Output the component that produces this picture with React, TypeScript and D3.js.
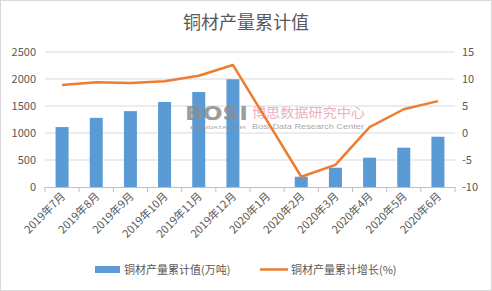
import React from "react";
import * as d3 from "d3";

const categories = ["2019年7月","2019年8月","2019年9月","2019年10月","2019年11月","2019年12月","2020年1月","2020年2月","2020年3月","2020年4月","2020年5月","2020年6月"];
const outputValues: (number | null)[] = [1110, 1280, 1405, 1575, 1760, 1995, null, 190, 357, 543, 728, 931];
const growthValues: (number | null)[] = [8.9, 9.4, 9.25, 9.6, 10.6, 12.6, null, -8.1, -5.9, 1.1, 4.4, 5.9];
const leftTicks = [0, 500, 1000, 1500, 2000, 2500];
const rightTicks = [-10, -5, 0, 5, 10, 15];
const title = "铜材产量累计值";
const barLabel = "铜材产量累计值(万吨)";
const lineLabel = "铜材产量累计增长(%)";

const W = 492, H = 291;
const M = { left: 45, right: 455, top: 52, bottom: 187 };
const FONT = "'Noto Sans CJK SC', 'Noto Sans', sans-serif";
const TXT = "#595959";

export default function App() {
  const step = (M.right - M.left) / categories.length;
  const yL = d3.scaleLinear().domain([0, 2500]).range([M.bottom, M.top]);
  const yR = d3.scaleLinear().domain([-10, 15]).range([M.bottom, M.top]);
  const center = (c: string) => M.left + categories.indexOf(c) * step + step / 2;
  const lineData = categories.map((c, i) => ({ c, v: growthValues[i] })).filter(d => d.v !== null) as { c: string; v: number }[];
  const line = d3.line<{ c: string; v: number }>().x(d => center(d.c)).y(d => yR(d.v));
  return (
    <svg width={W} height={H} style={{ position: "absolute", left: 0, top: 0, fontFamily: FONT }}>
      <rect x={0.5} y={0.5} width={W - 1} height={H - 1} fill="#fff" stroke="#d9d9d9" />
      <text x={246} y={29} textAnchor="middle" fontSize={18} fill={TXT}>{title}</text>
      {leftTicks.map(t => (
        <g key={t}>
          {t !== 0 && <line x1={M.left} x2={M.right} y1={yL(t)} y2={yL(t)} stroke="#d9d9d9" />}
          <text x={36} y={yL(t) + 4} textAnchor="end" fontSize={11} fill={TXT}>{t}</text>
        </g>
      ))}
      {rightTicks.map(t => (
        <text key={t} x={462} y={yR(t) + 4} textAnchor="start" fontSize={11} fill={TXT}>{t}</text>
      ))}
      {categories.map((c, i) => {
        const v = outputValues[i];
        if (v === null) return null;
        const cx = center(c);
        const bw = 13;
        return <rect key={c} x={cx - bw / 2} y={yL(v)} width={bw} height={yL(0) - yL(v)} fill="#5b9bd5" />;
      })}
      <line x1={M.left} x2={M.right} y1={M.bottom + 0.5} y2={M.bottom + 0.5} stroke="#bfbfbf" />
      {d3.range(categories.length + 1).map(i => (
        <line key={i} x1={M.left + i * step} x2={M.left + i * step} y1={M.bottom} y2={M.bottom + 5} stroke="#bfbfbf" />
      ))}
      <g opacity={0.85}>
        <text x={185} y={120} fontSize={19} fontWeight="bold" fill="#8c8c8c" fontFamily="'DejaVu Sans', sans-serif" textLength={63} lengthAdjust="spacingAndGlyphs">BOSI</text>
        <text x={190} y={129} fontSize={4} fill="#8c8c8c" textLength={56} lengthAdjust="spacingAndGlyphs">BOSIDATA.COM</text>
        <text x={252} y={117} fontSize={13} fill="#e9a3b4" textLength={113} lengthAdjust="spacingAndGlyphs">博思数据研究中心</text>
        <text x={252} y={129} fontSize={8} fill="#9a9a9a" fontFamily="'Liberation Sans', sans-serif" textLength={112} lengthAdjust="spacingAndGlyphs">Bosi Data Research Center</text>
      </g>
      <path d={line(lineData) || ""} fill="none" stroke="#ed7d31" strokeWidth={2.5} strokeLinejoin="round" />
      {categories.map(c => {
        const cx = center(c) + 4;
        return (
          <text key={c} transform={`translate(${cx},${M.bottom + 10}) rotate(-45)`} textAnchor="end" fontSize={11} fill={TXT}>{c}</text>
        );
      })}
      <rect x={95} y={266} width={25} height={7} fill="#5b9bd5" />
      <text x={124} y={274} fontSize={11} fill={TXT}>{barLabel}</text>
      <line x1={260} x2={288} y1={269.5} y2={269.5} stroke="#ed7d31" strokeWidth={2.5} />
      <text x={291} y={274} fontSize={11} fill={TXT}>{lineLabel}</text>
    </svg>
  );
}
